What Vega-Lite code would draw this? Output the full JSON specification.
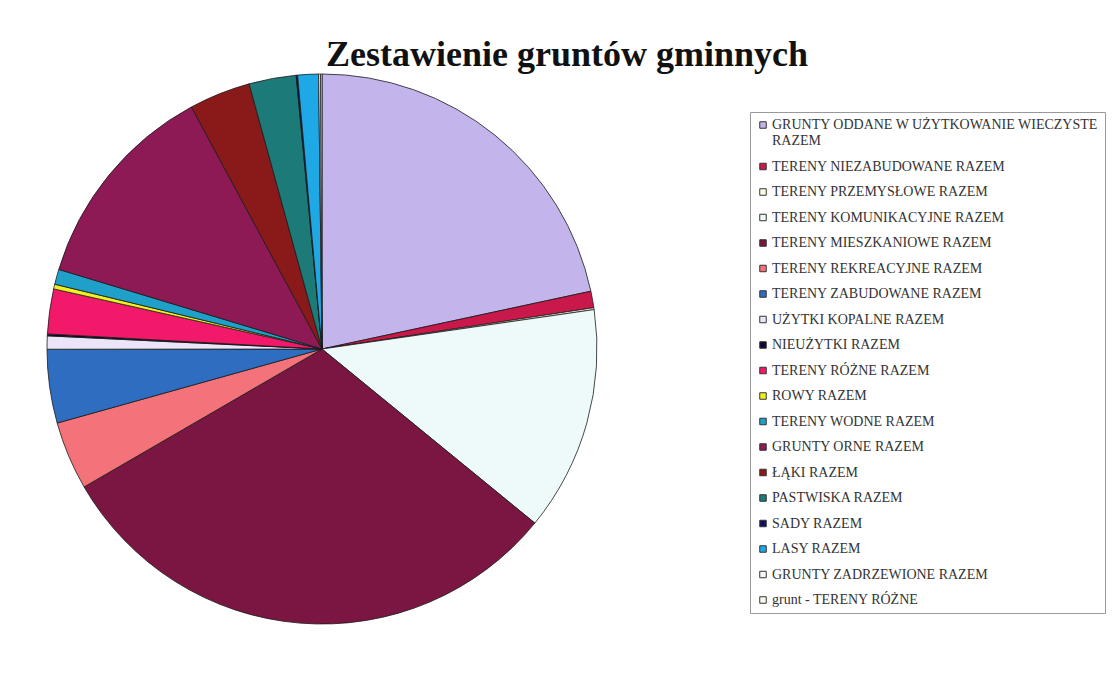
{
  "$schema": "https://vega.github.io/schema/vega-lite/v6.json",
  "width": 644,
  "height": 698,
  "autosize": {"type": "none"},
  "padding": {"left": 0, "top": 0, "right": 471, "bottom": 0},
  "background": "white",
  "config": {"view": {"stroke": null}},
  "title": {
    "text": "Zestawienie gruntów gminnych",
    "font": "Liberation Serif",
    "fontSize": 36,
    "fontWeight": "bold",
    "color": "#111111",
    "anchor": "start",
    "dx": 326,
    "baseline": "alphabetic",
    "offset": 0,
    "dy": 102
  },
  "data": {
    "values": [
      {"i": 1, "kategoria": "GRUNTY ODDANE W UŻYTKOWANIE WIECZYSTE RAZEM", "wartosc": 78},
      {"i": 2, "kategoria": "TERENY NIEZABUDOWANE RAZEM", "wartosc": 3.5},
      {"i": 3, "kategoria": "TERENY PRZEMYSŁOWE RAZEM", "wartosc": 0.4},
      {"i": 4, "kategoria": "TERENY KOMUNIKACYJNE RAZEM", "wartosc": 47.6},
      {"i": 5, "kategoria": "TERENY MIESZKANIOWE RAZEM", "wartosc": 110.8},
      {"i": 6, "kategoria": "TERENY REKREACYJNE RAZEM", "wartosc": 14.5},
      {"i": 7, "kategoria": "TERENY ZABUDOWANE RAZEM", "wartosc": 15.6},
      {"i": 8, "kategoria": "UŻYTKI KOPALNE RAZEM", "wartosc": 2.8},
      {"i": 9, "kategoria": "NIEUŻYTKI RAZEM", "wartosc": 0.4},
      {"i": 10, "kategoria": "TERENY RÓŻNE RAZEM", "wartosc": 9.5},
      {"i": 11, "kategoria": "ROWY RAZEM", "wartosc": 1.0},
      {"i": 12, "kategoria": "TERENY WODNE RAZEM", "wartosc": 3.2},
      {"i": 13, "kategoria": "GRUNTY ORNE RAZEM", "wartosc": 44.9},
      {"i": 14, "kategoria": "ŁĄKI RAZEM", "wartosc": 13},
      {"i": 15, "kategoria": "PASTWISKA RAZEM", "wartosc": 10},
      {"i": 16, "kategoria": "SADY RAZEM", "wartosc": 0.3},
      {"i": 17, "kategoria": "LASY RAZEM", "wartosc": 4.4},
      {"i": 18, "kategoria": "GRUNTY ZADRZEWIONE RAZEM", "wartosc": 0.4},
      {"i": 19, "kategoria": "grunt - TERENY RÓŻNE", "wartosc": 0.3}
    ]
  },
  "mark": {"type": "arc", "outerRadius": 275, "stroke": "#1a1a1a", "strokeWidth": 0.8},
  "encoding": {
    "theta": {"field": "wartosc", "type": "quantitative", "stack": true},
    "order": {"field": "i", "type": "quantitative"},
    "color": {
      "field": "kategoria",
      "type": "nominal",
      "sort": null,
      "scale": {
        "domain": [
          "GRUNTY ODDANE W UŻYTKOWANIE WIECZYSTE RAZEM",
          "TERENY NIEZABUDOWANE RAZEM",
          "TERENY PRZEMYSŁOWE RAZEM",
          "TERENY KOMUNIKACYJNE RAZEM",
          "TERENY MIESZKANIOWE RAZEM",
          "TERENY REKREACYJNE RAZEM",
          "TERENY ZABUDOWANE RAZEM",
          "UŻYTKI KOPALNE RAZEM",
          "NIEUŻYTKI RAZEM",
          "TERENY RÓŻNE RAZEM",
          "ROWY RAZEM",
          "TERENY WODNE RAZEM",
          "GRUNTY ORNE RAZEM",
          "ŁĄKI RAZEM",
          "PASTWISKA RAZEM",
          "SADY RAZEM",
          "LASY RAZEM",
          "GRUNTY ZADRZEWIONE RAZEM",
          "grunt - TERENY RÓŻNE"
        ],
        "range": [
          "#C4B4EC", "#C8194A", "#FFFDE0", "#EEFAFA", "#7B1642", "#F4727A", "#2E6DC0", "#ECE4F8", "#0A0A30", "#F2196A",
          "#F0F020", "#1EA0C8", "#8E1A55", "#8A1A1A", "#1C7A78", "#101060", "#1EA8E6", "#F8F8F8", "#FAFAF0"
        ]
      },
      "legend": {
        "orient": "none",
        "legendX": 750,
        "legendY": 112,
        "title": null,
        "strokeColor": "#999999",
        "padding": 6,
        "symbolType": "square",
        "symbolSize": 42,
        "symbolStrokeColor": "#333333",
        "symbolStrokeWidth": 1,
        "labelFont": "Liberation Serif",
        "labelFontSize": 14,
        "labelColor": "#333333",
        "labelLimit": 0,
        "labelOffset": 2,
        "rowPadding": 11.5,
        "labelExpr": "datum.label == 'GRUNTY ODDANE W UŻYTKOWANIE WIECZYSTE RAZEM' ? ['GRUNTY ODDANE W UŻYTKOWANIE WIECZYSTE', 'RAZEM'] : datum.label"
      }
    }
  }
}
